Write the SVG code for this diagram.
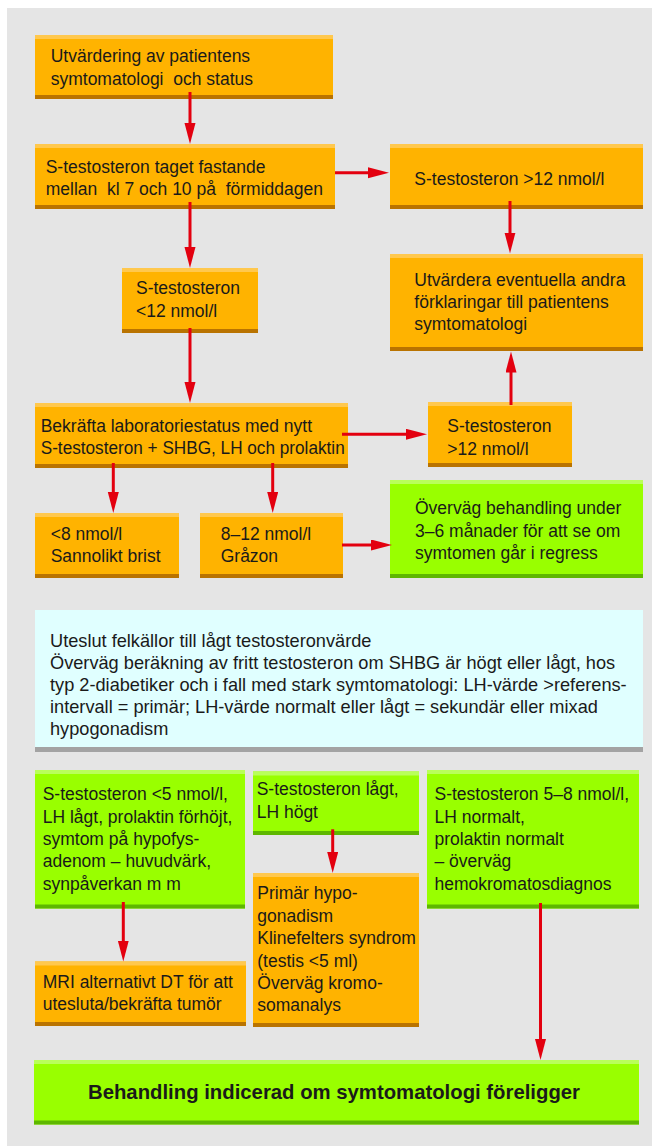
<svg xmlns="http://www.w3.org/2000/svg" width="652" height="1146" viewBox="0 0 652 1146">
<style>
  .bg{fill:#E5E5E5}
  .o{fill:#FFB300}
  .ot{fill:#FFC84E}
  .ob{fill:#B97300}
  .g{fill:#99FF00}
  .gt{fill:#B9FF5A}
  .gb{fill:#5EB700}
  .c{fill:#E0FFFF}
  .cb{fill:#A3A3A3}
  text{font-family:"Liberation Sans",Arial,sans-serif;font-size:17.5px;fill:#1A1A1A;white-space:pre}
  .ct{font-size:18.2px}
  .bold{font-weight:bold;font-size:21px}
  .conn line{stroke:#E3000F;stroke-width:3;fill:none}
</style>
<defs>
  <marker id="ah" markerUnits="userSpaceOnUse" markerWidth="22" markerHeight="12" refX="1" refY="5.5" orient="auto">
    <path d="M0,0 L21,5.5 L0,11 Z" fill="#E3000F"/>
  </marker>
</defs>
<rect class="bg" x="7" y="8" width="645" height="1138"/>

<g id="n1">
  <rect class="o" x="35" y="35" width="298" height="64"/>
  <rect class="ot" x="35" y="35" width="298" height="4"/>
  <rect class="ob" x="35" y="95" width="298" height="4"/>
  <text x="50.7" y="62">Utvärdering av patientens</text>
  <text x="50.7" y="84.5">symtomatologi  och status</text>
</g>
<g id="n2">
  <rect class="o" x="35" y="144" width="300" height="65"/>
  <rect class="ot" x="35" y="144" width="300" height="4"/>
  <rect class="ob" x="35" y="205" width="300" height="4"/>
  <text x="45.7" y="172.7">S-testosteron taget fastande</text>
  <text x="45.7" y="194.5">mellan  kl 7 och 10 på  förmiddagen</text>
</g>
<g id="n3">
  <rect class="o" x="390" y="144" width="253" height="65"/>
  <rect class="ot" x="390" y="144" width="253" height="4"/>
  <rect class="ob" x="390" y="205" width="253" height="4"/>
  <text x="414.3" y="184.5">S-testosteron &gt;12 nmol/l</text>
</g>
<g id="n4">
  <rect class="o" x="122" y="268" width="136" height="65"/>
  <rect class="ot" x="122" y="268" width="136" height="4"/>
  <rect class="ob" x="122" y="329" width="136" height="4"/>
  <text x="136" y="294.3">S-testosteron</text>
  <text x="136" y="317">&lt;12 nmol/l</text>
</g>
<g id="n5">
  <rect class="o" x="390" y="254" width="253" height="97"/>
  <rect class="ot" x="390" y="254" width="253" height="4"/>
  <rect class="ob" x="390" y="347" width="253" height="4"/>
  <text x="414.3" y="285.5">Utvärdera eventuella andra</text>
  <text x="414.3" y="307.7">förklaringar till patientens</text>
  <text x="414.3" y="329.5">symtomatologi</text>
</g>
<g id="n6">
  <rect class="o" x="35" y="403" width="313" height="65"/>
  <rect class="ot" x="35" y="403" width="313" height="4"/>
  <rect class="ob" x="35" y="464" width="313" height="4"/>
  <text x="40.7" y="432.3">Bekräfta laboratoriestatus med nytt</text>
  <text x="40.7" y="454" textLength="304" lengthAdjust="spacingAndGlyphs">S-testosteron + SHBG, LH och prolaktin</text>
</g>
<g id="n7">
  <rect class="o" x="428" y="402" width="144" height="65"/>
  <rect class="ot" x="428" y="402" width="144" height="4"/>
  <rect class="ob" x="428" y="463" width="144" height="4"/>
  <text x="447.3" y="431.7">S-testosteron</text>
  <text x="447.3" y="455">&gt;12 nmol/l</text>
</g>
<g id="n8">
  <rect class="o" x="35" y="513" width="144" height="65"/>
  <rect class="ot" x="35" y="513" width="144" height="4"/>
  <rect class="ob" x="35" y="574" width="144" height="4"/>
  <text x="50.7" y="540">&lt;8 nmol/l</text>
  <text x="50.7" y="561.7">Sannolikt brist</text>
</g>
<g id="n9">
  <rect class="o" x="200" y="513" width="143" height="65"/>
  <rect class="ot" x="200" y="513" width="143" height="4"/>
  <rect class="ob" x="200" y="574" width="143" height="4"/>
  <text x="220.7" y="540">8–12 nmol/l</text>
  <text x="220.7" y="561.7">Gråzon</text>
</g>
<g id="n10">
  <rect class="g" x="390" y="480" width="253" height="98"/>
  <rect class="gt" x="390" y="480" width="253" height="4"/>
  <rect class="gb" x="390" y="574" width="253" height="4"/>
  <text x="415" y="514.3">Överväg behandling under</text>
  <text x="415" y="536.7">3–6 månader för att se om</text>
  <text x="415" y="559">symtomen går i regress</text>
</g>
<g id="n11">
  <rect class="c" x="35" y="610" width="608" height="142"/>
  <rect class="cb" x="35" y="747" width="608" height="5"/>
  <text class="ct" x="50" y="647">Uteslut felkällor till lågt testosteronvärde</text>
  <text class="ct" x="50" y="669">Överväg beräkning av fritt testosteron om SHBG är högt eller lågt, hos</text>
  <text class="ct" x="50" y="691">typ 2-diabetiker och i fall med stark symtomatologi: LH-värde &gt;referens-</text>
  <text class="ct" x="50" y="713">intervall = primär; LH-värde normalt eller lågt = sekundär eller mixad</text>
  <text class="ct" x="50" y="735">hypogonadism</text>
</g>
<g id="n12">
  <rect class="g" x="35" y="770" width="210" height="138.5"/>
  <rect class="gt" x="35" y="770" width="210" height="4"/>
  <rect class="gb" x="35" y="904.5" width="210" height="4"/>
  <text x="42.7" y="800">S-testosteron &lt;5 nmol/l,</text>
  <text x="42.7" y="822.5">LH lågt, prolaktin förhöjt,</text>
  <text x="42.7" y="845">symtom på hypofys-</text>
  <text x="42.7" y="867">adenom – huvudvärk,</text>
  <text x="42.7" y="889.5">synpåverkan m m</text>
</g>
<g id="n13">
  <rect class="g" x="253" y="771.5" width="166" height="63.5"/>
  <rect class="gt" x="253" y="771.5" width="166" height="4"/>
  <rect class="gb" x="253" y="831" width="166" height="4"/>
  <text x="256.7" y="795">S-testosteron lågt,</text>
  <text x="256.7" y="818">LH högt</text>
</g>
<g id="n14">
  <rect class="g" x="427" y="770" width="212" height="138.5"/>
  <rect class="gt" x="427" y="770" width="212" height="4"/>
  <rect class="gb" x="427" y="904.5" width="212" height="4"/>
  <text x="434.5" y="800">S-testosteron 5–8 nmol/l,</text>
  <text x="434.5" y="822.5">LH normalt,</text>
  <text x="434.5" y="845">prolaktin normalt</text>
  <text x="434.5" y="867">– överväg</text>
  <text x="434.5" y="889.5">hemokromatosdiagnos</text>
</g>
<g id="n15">
  <rect class="o" x="253" y="873" width="166" height="154"/>
  <rect class="ot" x="253" y="873" width="166" height="4"/>
  <rect class="ob" x="253" y="1023" width="166" height="4"/>
  <text x="257.3" y="899.3">Primär hypo-</text>
  <text x="257.3" y="921.7">gonadism</text>
  <text x="257.3" y="944">Klinefelters syndrom</text>
  <text x="257.3" y="966.7">(testis &lt;5 ml)</text>
  <text x="257.3" y="989.3">Överväg kromo-</text>
  <text x="257.3" y="1010.7">somanalys</text>
</g>
<g id="n16">
  <rect class="o" x="35" y="961.5" width="211" height="64.5"/>
  <rect class="ot" x="35" y="961.5" width="211" height="4"/>
  <rect class="ob" x="35" y="1022" width="211" height="4"/>
  <text x="42.7" y="987.7">MRI alternativt DT för att</text>
  <text x="42.7" y="1010">utesluta/bekräfta tumör</text>
</g>
<g id="n17">
  <rect class="g" x="34" y="1060" width="605" height="64.5"/>
  <rect class="gt" x="34" y="1060" width="605" height="4"/>
  <rect class="gb" x="34" y="1120.5" width="605" height="4"/>
  <text class="bold" x="88" y="1099" textLength="492" lengthAdjust="spacingAndGlyphs">Behandling indicerad om symtomatologi föreligger</text>
</g>

<g id="connectors" class="conn">
  <line x1="190" y1="92" x2="190" y2="124" marker-end="url(#ah)"/>
  <line x1="335" y1="172.7" x2="369" y2="172.7" marker-end="url(#ah)"/>
  <line x1="190" y1="202" x2="190" y2="248" marker-end="url(#ah)"/>
  <line x1="510" y1="201" x2="510" y2="233.5" marker-end="url(#ah)"/>
  <line x1="190" y1="328" x2="190" y2="383" marker-end="url(#ah)"/>
  <line x1="342" y1="434.3" x2="407" y2="434.3" marker-end="url(#ah)"/>
  <line x1="511" y1="405" x2="511" y2="371.5" marker-end="url(#ah)"/>
  <line x1="113.3" y1="463" x2="113.3" y2="493" marker-end="url(#ah)"/>
  <line x1="272.7" y1="463" x2="272.7" y2="493" marker-end="url(#ah)"/>
  <line x1="342" y1="545" x2="372" y2="545" marker-end="url(#ah)"/>
  <line x1="123.3" y1="902" x2="123.3" y2="941.5" marker-end="url(#ah)"/>
  <line x1="332.7" y1="829.3" x2="332.7" y2="853" marker-end="url(#ah)"/>
  <line x1="540.5" y1="903" x2="540.5" y2="1040" marker-end="url(#ah)"/>
</g>
</svg>
